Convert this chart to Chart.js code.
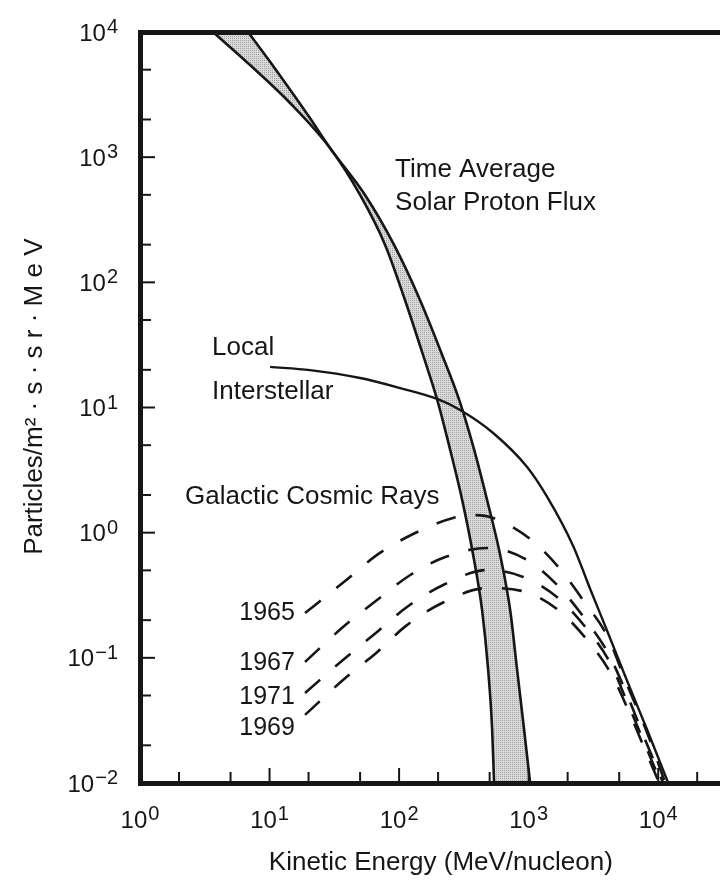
<!DOCTYPE html>
<html>
<head>
<meta charset="utf-8">
<script src="https://cdn.jsdelivr.net/npm/chart.js@4.4.1/dist/chart.umd.min.js"></script>
<style>
html,body{margin:0;padding:0;background:#ffffff;overflow:hidden}
canvas{display:block}
</style>
</head>
<body>
<canvas id="chart" width="720" height="885"></canvas>
<script>
// ---------- data ----------
const energyTicks = [1, 2, 5, 10, 20, 50, 100, 200, 500, 1000, 2000, 5000, 10000, 20000];
const fluxTicks = [0.01, 0.02, 0.05, 0.1, 0.2, 0.5, 1, 2, 5, 10, 20, 50, 100, 200, 500, 1000, 2000, 5000, 10000];

// Time-average solar proton flux: the two edges of the shaded band
const solarLowerE = [3.66, 7.07, 14.4, 29.3, 50.0, 78.0, 111, 153, 197, 248, 307, 373, 437, 487, 523, 541];
const solarLowerF = [10000, 5450, 2710, 1184, 499, 199, 72.3, 26.3, 11.5, 4.58, 1.82, 0.663, 0.241, 0.080, 0.0265, 0.01];
const solarUpperE = [6.82, 9.74, 14.1, 20.5, 29.3, 54.6, 91.5, 145, 215, 291, 380, 478, 603, 720, 815, 923, 1027];
const solarUpperF = [10000, 6085, 3570, 2055, 1184, 499, 199, 72.3, 26.3, 11.5, 4.58, 1.82, 0.663, 0.241, 0.080, 0.0265, 0.01];

// Local interstellar spectrum
const lisE = [10.1, 20.5, 50.0, 102, 197, 296, 532, 973, 1390, 2210, 2985, 4040, 5760, 8230, 11950];
const lisF = [21.1, 19.9, 17.2, 14.3, 11.7, 9.55, 6.26, 3.35, 1.93, 0.78, 0.355, 0.164, 0.0653, 0.0265, 0.01];

// Galactic cosmic rays by year
const gcr1965E = [18.8, 38.3, 67.6, 133, 261, 386, 532, 1027, 1720, 2730, 4040, 5760, 8230, 11330];
const gcr1965F = [0.228, 0.411, 0.664, 0.994, 1.31, 1.38, 1.31, 0.890, 0.522, 0.274, 0.150, 0.0607, 0.0251, 0.01];
const gcr1967E = [18.8, 36.9, 67.6, 122, 227, 478, 973, 1690, 2730, 4110, 5760, 7940, 10930];
const gcr1967F = [0.0927, 0.176, 0.290, 0.459, 0.639, 0.754, 0.605, 0.375, 0.204, 0.109, 0.0505, 0.0221, 0.01];
const gcr1971E = [18.8, 36.9, 67.6, 115, 219, 478, 907, 1690, 2780, 4260, 5760, 7940, 10550];
const gcr1971F = [0.0524, 0.0962, 0.161, 0.255, 0.382, 0.503, 0.443, 0.301, 0.173, 0.091, 0.0444, 0.0201, 0.01];
const gcr1969E = [18.8, 36.9, 67.6, 113, 215, 478, 891, 1690, 2830, 4340, 5870, 7940, 10180];
const gcr1969F = [0.035, 0.0665, 0.111, 0.180, 0.274, 0.361, 0.342, 0.241, 0.139, 0.0743, 0.0383, 0.0183, 0.01];

// Text labels inside the plot (anchored in data space)
const noteTexts = ['Time Average', 'Solar Proton Flux', 'Local', 'Interstellar', 'Galactic Cosmic Rays', '1965', '1967', '1971', '1969'];
const noteE = [93.1, 93.1, 3.60, 3.60, 2.23, 15.7, 15.7, 15.7, 15.7];
const noteF = [790, 430, 29.9, 13.3, 1.93, 0.228, 0.091, 0.0487, 0.0275];
const noteAlign = ['left', 'left', 'left', 'left', 'left', 'right', 'right', 'right', 'right'];

// ---------- styling ----------
const FONT = '"Liberation Sans", Arial, Helvetica, sans-serif';
const INK = '#161616';

function isDecade(v){ const l = Math.log10(v); return Math.abs(l - Math.round(l)) < 1e-6; }
function expText(v){ const n = Math.round(Math.log10(v)); return n < 0 ? '\u2212' + (-n) : String(n); }
function pts(E, F){ return E.map((e, i) => ({x: e, y: F[i]})); }

function stipple(){
  const c = document.createElement('canvas');
  c.width = 2; c.height = 2;
  const g = c.getContext('2d');
  g.fillStyle = '#dadada'; g.fillRect(0, 0, 2, 2);
  g.fillStyle = '#a2a2a2'; g.fillRect(0, 0, 1, 1);
  return g.createPattern(c, 'repeat');
}
const GREY = stipple();
const NONE = 'rgba(0,0,0,0)';

const dashed = (label, E, F) => ({
  label, data: pts(E, F), borderColor: INK, borderWidth: 2.6, borderDash: [20, 20],
  borderCapStyle: 'butt', pointRadius: 0, fill: false, cubicInterpolationMode: 'monotone'
});
const edge = (label, E, F) => ({
  label, data: pts(E, F), borderColor: INK, borderWidth: 2.6,
  pointRadius: 0, fill: false, cubicInterpolationMode: 'monotone'
});
const paint = (label, E, F, to, color) => ({
  label, data: pts(E, F), borderColor: NONE, borderWidth: 0,
  pointRadius: 0, fill: to, backgroundColor: color, cubicInterpolationMode: 'monotone'
});

// ---------- plugins ----------
function drawPower(ctx, v, x, yc, align){
  const e = expText(v);
  ctx.font = '20px ' + FONT;
  const we = ctx.measureText(e).width;
  ctx.font = '24px ' + FONT;
  const wb = ctx.measureText('10').width;
  const total = wb + 1 + we;
  const x0 = align === 'right' ? x - total : x - total / 2;
  ctx.textAlign = 'left';
  ctx.textBaseline = 'alphabetic';
  ctx.fillText('10', x0, yc + 8.6);
  ctx.font = '20px ' + FONT;
  ctx.fillText(e, x0 + wb + 1, yc + 1);
}

const axisMarks = {
  id: 'axisMarks',
  afterDraw(chart){
    const {ctx, chartArea: a, scales: {x, y}} = chart;
    ctx.save();
    ctx.strokeStyle = INK; ctx.fillStyle = INK; ctx.lineWidth = 2;
    x.ticks.forEach(t => {
      const px = x.getPixelForValue(t.value);
      if (px < a.left - 1 || px > a.right) return;
      const len = isDecade(t.value) ? 15 : 11;
      ctx.beginPath(); ctx.moveTo(px, a.bottom); ctx.lineTo(px, a.bottom - len); ctx.stroke();
      if (isDecade(t.value)) drawPower(ctx, t.value, px, a.bottom + 36, 'center');
    });
    y.ticks.forEach(t => {
      const py = y.getPixelForValue(t.value);
      const len = isDecade(t.value) ? 15 : 11;
      ctx.beginPath(); ctx.moveTo(a.left, py); ctx.lineTo(a.left + len, py); ctx.stroke();
      if (isDecade(t.value)) drawPower(ctx, t.value, a.left - 22, py, 'right');
    });
    ctx.restore();
  }
};

const notes = {
  id: 'notes',
  afterDraw(chart){
    const {ctx, scales: {x, y}} = chart;
    ctx.save();
    ctx.fillStyle = INK;
    ctx.textBaseline = 'middle';
    noteTexts.forEach((t, i) => {
      ctx.font = (noteAlign[i] === 'right' ? '25px ' : '26px ') + FONT;
      ctx.textAlign = noteAlign[i];
      ctx.fillText(t, x.getPixelForValue(noteE[i]), y.getPixelForValue(noteF[i]));
    });
    ctx.restore();
  }
};

// ---------- chart ----------
new Chart(document.getElementById('chart'), {
  type: 'line',
  data: {
    datasets: [
      dashed('1965', gcr1965E, gcr1965F),
      dashed('1967', gcr1967E, gcr1967F),
      dashed('1971', gcr1971E, gcr1971F),
      dashed('1969', gcr1969E, gcr1969F),
      {label: 'Local Interstellar', data: pts(lisE, lisF), borderColor: INK, borderWidth: 2.4,
       pointRadius: 0, fill: false, cubicInterpolationMode: 'monotone'},
      edge('Solar flux, lower edge', solarLowerE, solarLowerF),
      edge('Solar flux, upper edge', solarUpperE, solarUpperF),
      // shading of the band between the two edges (painted bottom-up, last listed first)
      paint('band clear below lower edge', solarLowerE, solarLowerF, 'start', '#ffffff'),
      paint('band shade below upper edge', solarUpperE, solarUpperF, 'start', GREY),
      paint('band clear above upper edge', solarUpperE, solarUpperF, 'end', '#ffffff'),
      paint('band shade above lower edge', solarLowerE, solarLowerF, 'end', GREY)
    ]
  },
  options: {
    responsive: false,
    animation: false,
    devicePixelRatio: 1,
    layout: {padding: 0},
    plugins: {legend: {display: false}, tooltip: {enabled: false}},
    scales: {
      x: {
        type: 'logarithmic', position: 'bottom', min: 1, max: 30000,
        afterBuildTicks: s => { s.ticks = energyTicks.map(v => ({value: v})); },
        afterFit: s => { s.height = 102; },
        grid: {display: false, drawTicks: false},
        border: {display: true, width: 5, color: INK, z: 1},
        ticks: {display: false},
        title: {display: true, text: '   Kinetic Energy (MeV/nucleon)', color: INK,
                font: {size: 26, family: FONT}, padding: {top: 0, bottom: 7}}
      },
      x2: {
        type: 'logarithmic', position: 'top', min: 1, max: 30000,
        afterFit: s => { s.height = 32; },
        grid: {display: false, drawTicks: false},
        ticks: {display: false},
        border: {display: true, width: 5, color: INK, z: 1}
      },
      y: {
        type: 'logarithmic', position: 'left', min: 0.01, max: 10000,
        afterBuildTicks: s => { s.ticks = fluxTicks.map(v => ({value: v})); },
        afterFit: s => { s.width = 140; },
        grid: {display: false, drawTicks: false},
        border: {display: true, width: 5, color: INK, z: 1},
        ticks: {display: false},
        title: {display: true, text: '   Particles/m\u00b2 \u00b7 s \u00b7 s r \u00b7 M e V', color: INK,
                font: {size: 26, family: FONT}, padding: {top: 19, bottom: 0}}
      }
    }
  },
  plugins: [axisMarks, notes]
});
</script>
</body>
</html>
